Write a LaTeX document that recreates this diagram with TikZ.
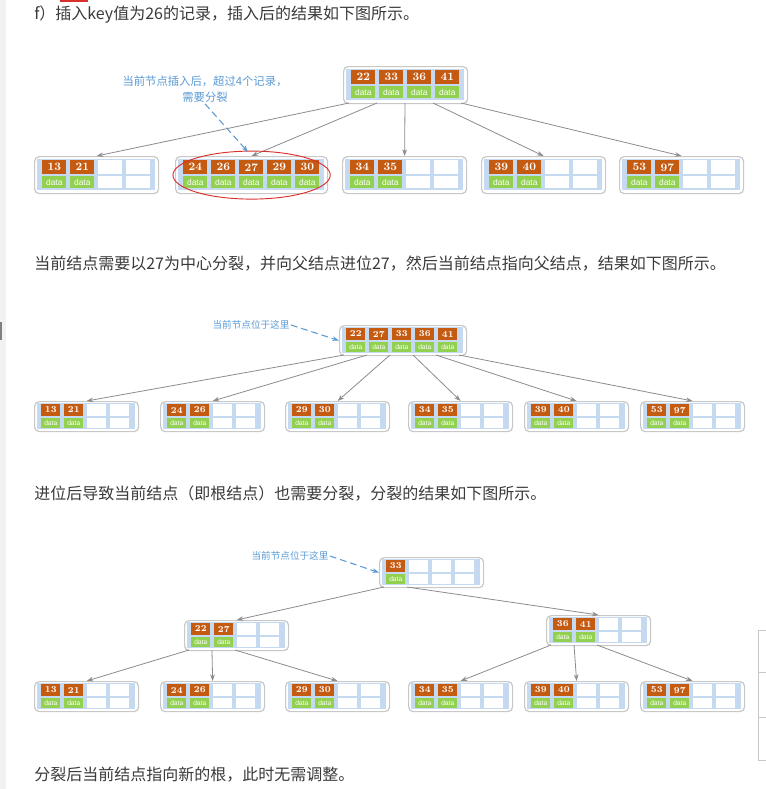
\documentclass[tikz,border=0pt]{standalone}
\usepackage{fontspec}
\newfontfamily\cjk{Noto Sans CJK SC}
\newfontfamily\datafont{Liberation Sans}
\usetikzlibrary{arrows.meta}
\definecolor{keyorange}{HTML}{C55A11}
\definecolor{datagreen}{HTML}{92D050}
\definecolor{bandblue}{HTML}{C5D9F1}
\definecolor{boxgrey}{HTML}{C8C8C8}
\definecolor{linkgrey}{HTML}{8C8C8C}
\definecolor{noteblue}{HTML}{5B9BD5}
\definecolor{textgrey}{HTML}{3A3A3A}
\definecolor{pagegrey}{HTML}{F2F2F4}
\definecolor{markred}{HTML}{D9302C}

\newcommand{\bnode}[5]{%
    \begin{scope}[shift={(#2,#3)}]
        \pgfmathsetmacro\bw{#5*\bstep+12}
        \node (#1) at (0,0) [bouter,minimum width=\bw*0.75pt] {};
        \fill[bandblue] (3,\bpy) rectangle (\bw-3,\bh-\bpy);
        \foreach \j in {1,...,#5} {
            \pgfmathsetmacro\cx{\bin+(\j-1)*\bstep}
            \fill[white] (\cx,\bkt) rectangle ++(\bcw,\bkh);
            \fill[white] (\cx,\bkt+\bkh+\bgap) rectangle ++(\bcw,\bdh);
        }
        \foreach \k [count=\j from 0] in {#4} {
            \pgfmathsetmacro\cx{\bin+\j*\bstep}
            \node (#1-k\j) at (\cx,\bkt) [bkey] {\k};
            \node (#1-d\j) at (\cx,\bkt+\bkh+\bgap) [bdata] {data};
        }
        \foreach \j in {0,...,#5}
            \coordinate (#1-p\j) at (\bin+\j*\bstep-2,\bh);
    \end{scope}}

\begin{document}
\begin{tikzpicture}[x=0.75pt,y=-0.75pt,
    >={Stealth[length=5pt,width=3.5pt]},
    bigtree/.code={\def\bstep{28}\def\bcw{24}\def\bin{8}\def\bh{37}\def\bpy{3}%
        \def\bkt{4}\def\bkh{14}\def\bgap{2}\def\bdh{12}%
        \def\bkfont{\fontsize{8.5}{9}\selectfont\bfseries}%
        \def\bdfont{\datafont\fontsize{6.3}{7}\selectfont}},
    smalltree/.code={\def\bstep{23}\def\bcw{19}\def\bin{7}\def\bh{30}\def\bpy{2}%
        \def\bkt{2.5}\def\bkh{12.5}\def\bgap{1.5}\def\bdh{10}%
        \def\bkfont{\fontsize{6.8}{7}\selectfont\bfseries}%
        \def\bdfont{\datafont\fontsize{5}{6}\selectfont}},
    bouter/.style={draw=boxgrey,line width=0.9pt,rounded corners=3.5pt,fill=white,
        inner sep=0pt,anchor=north west,minimum height=\bh*0.75pt},
    bkey/.style={fill=keyorange,text=white,inner sep=0pt,anchor=north west,
        minimum width=\bcw*0.75pt,minimum height=\bkh*0.75pt,font=\bkfont},
    bdata/.style={fill=datagreen,text=white,inner sep=0pt,anchor=north west,
        minimum width=\bcw*0.75pt,minimum height=\bdh*0.75pt,font=\bdfont},
    link/.style={->,draw=linkgrey,line width=0.6pt},
    note/.style={text=noteblue,inner sep=1pt},
    notelink/.style={->,draw=noteblue,line width=0.8pt,dash pattern=on 5pt off 3pt},
    heading/.style={anchor=west,inner sep=0pt,text=textgrey,font=\cjk\fontsize{12}{14}\selectfont}]
    \useasboundingbox (0,0) rectangle (766,789);
    \fill[white] (0,0) rectangle (766,789);
    \fill[pagegrey] (0,0) rectangle (6,789);
    \fill[gray] (0,322) rectangle (2,340);
    \fill[markred] (60,0) rectangle (88,2);
    \draw[boxgrey,line width=0.6pt] (766,630) -- (758,630) -- (758,760) -- (766,760);
    \draw[boxgrey,line width=0.6pt] (758,672) -- (766,672);
    \draw[boxgrey,line width=0.6pt] (758,717) -- (766,717);

    \node (h1) at (34,15) [heading] {f）插入key值为26的记录，插入后的结果如下图所示。};
    \begin{scope}[bigtree]
        \bnode{r1}{343}{66}{22,33,36,41}{4}
        \bnode{a1}{34}{156}{13,21}{4}
        \bnode{a2}{175}{156}{24,26,27,29,30}{5}
        \bnode{a3}{342}{156}{34,35}{4}
        \bnode{a4}{481}{156}{39,40}{4}
        \bnode{a5}{619}{156}{53,97}{4}
    \end{scope}
    \draw[link] (r1-p0) -- (a1.north);
    \draw[link] (r1-p1) -- (a2.north);
    \draw[link] (r1-p2) -- (a3.north);
    \draw[link] (r1-p3) -- (a4.north);
    \draw[link] (r1-p4) -- (a5.north);
    \draw[markred,line width=0.7pt] (a2.center) ellipse [x radius=59pt,y radius=18pt];
    \node (n1) at (205,89) [note,align=center,font=\cjk\fontsize{8.5}{12}\selectfont] {当前节点插入后，超过4个记录，\\需要分裂};
    \draw[notelink,shorten >=4pt] (n1.south) -- (a2.north);

    \node (h2) at (34,264) [heading] {当前结点需要以27为中心分裂，并向父结点进位27，然后当前结点指向父结点，结果如下图所示。};
    \begin{scope}[smalltree]
        \bnode{m0}{339}{325}{22,27,33,36,41}{5}
        \bnode{b1}{34}{401}{13,21}{4}
        \bnode{b2}{160}{401}{24,26}{4}
        \bnode{b3}{285}{401}{29,30}{4}
        \bnode{b4}{408}{401}{34,35}{4}
        \bnode{b5}{524}{401}{39,40}{4}
        \bnode{b6}{640}{401}{53,97}{4}
    \end{scope}
    \draw[link] (m0-p0) -- (b1.north);
    \draw[link] (m0-p1) -- (b2.north);
    \draw[link] (m0-p2) -- (b3.north);
    \draw[link] (m0-p3) -- (b4.north);
    \draw[link] (m0-p4) -- (b5.north);
    \draw[link] (m0-p5) -- (b6.north);
    \node (n2) at (251,325) [note,font=\cjk\fontsize{7.2}{9}\selectfont] {当前节点位于这里};
    \draw[notelink] (n2.east) -- (m0.west);

    \node (h3) at (34,494) [heading] {进位后导致当前结点（即根结点）也需要分裂，分裂的结果如下图所示。};
    \begin{scope}[smalltree]
        \bnode{c0}{379}{557}{33}{4}
        \bnode{c1}{184}{620}{22,27}{4}
        \bnode{c2}{546}{615}{36,41}{4}
        \bnode{d1}{34}{681}{13,21}{4}
        \bnode{d2}{160}{681}{24,26}{4}
        \bnode{d3}{285}{681}{29,30}{4}
        \bnode{d4}{408}{681}{34,35}{4}
        \bnode{d5}{524}{681}{39,40}{4}
        \bnode{d6}{640}{681}{53,97}{4}
    \end{scope}
    \draw[link] (c0-p0) -- (c1.north);
    \draw[link] (c0-p1) -- (c2.north);
    \draw[link] (c1-p0) -- (d1.north);
    \draw[link] (c1-p1) -- (d2.north);
    \draw[link] (c1-p2) -- (d3.north);
    \draw[link] (c2-p0) -- (d4.north);
    \draw[link] (c2-p1) -- (d5.north);
    \draw[link] (c2-p2) -- (d6.north);
    \node (n3) at (290,556) [note,font=\cjk\fontsize{7.2}{9}\selectfont] {当前节点位于这里};
    \draw[notelink] (n3.east) -- (c0.west);

    \node (h4) at (34,775) [heading] {分裂后当前结点指向新的根，此时无需调整。};
\end{tikzpicture}
\end{document}
